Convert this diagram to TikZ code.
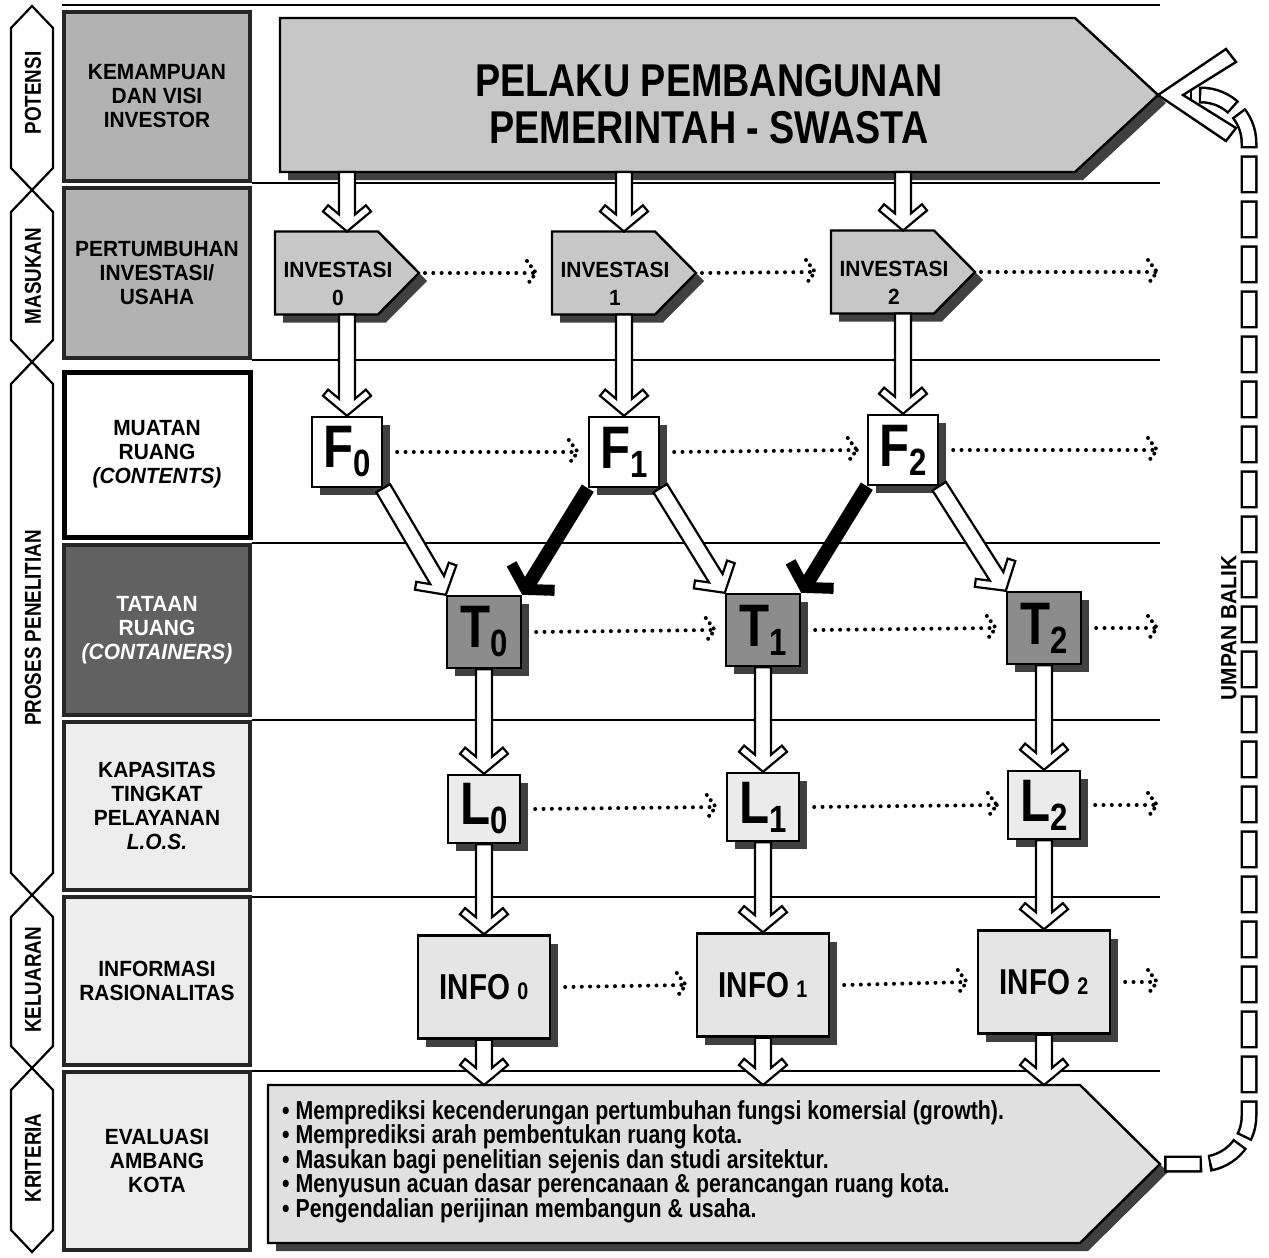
\documentclass[tikz,border=0pt]{standalone}
\usepackage{fontspec}
\setmainfont{Liberation Sans}[FakeStretch=0.82]
\newfontfamily\labfont{Liberation Sans}[FakeStretch=0.95]
\usetikzlibrary{calc,shadows}
\newcommand\fsz[2]{\fontsize{#1}{#2}\selectfont}
\newcommand\bigsub[2]{{\fsz{60}{60}#1}\kern0.5pt\raisebox{-9pt}{\fsz{38}{38}#2}}
\newcommand\infotxt[1]{{\fsz{36}{36}INFO}\kern7pt{\fsz{24}{24}#1}}
\tikzset{
  rowline/.style={line width=2.6pt},
  hexline/.style={line width=2.2pt, fill=white},
  vlab/.style={rotate=90, font=\bfseries\fsz{23}{23}},
  labbox/.style={draw=black!85, line width=3.5pt, minimum width=186pt, align=center, font=\labfont\bfseries\fsz{22}{24}, inner sep=0pt},
  anchorbox/.style={inner sep=0pt, outer sep=0pt},
  shad/.style={general shadow={fill=black!75, shadow xshift=8pt, shadow yshift=-8pt}},
  pentfill/.style={draw, line width=2.4pt, fill=#1, shad},
  sqbox/.style={draw, line width=2.4pt, fill=#1, shad, inner sep=0pt, font=\bfseries},
  invtext/.style={font=\labfont\bfseries\fsz{22}{28}, align=center},
  harrow/.style={draw, line width=2.2pt, fill=white, line join=miter},
  dotline/.style={line width=4pt, line cap=round, dash pattern=on 0pt off 8.3pt},
  fbout/.style={line width=17pt, draw=black, dash pattern=on 38pt off 7pt, rounded corners=48pt},
  fbin/.style={line width=12pt, draw=white, dash pattern=on 33pt off 12pt, dash phase=42.5pt, rounded corners=48pt},
  headst/.style={draw, line width=2.4pt, fill=white, line join=miter},
}
\newcommand\hexshape[2]{\draw[hexline] (32,#1) -- (53,{#1+22}) -- (53,{#2-22}) -- (32,#2) -- (11,{#2-22}) -- (11,{#1+22}) -- cycle;}
\newcommand\hollowarr[2]{%
  \coordinate (qa) at (#1); \coordinate (qb) at (#2);
  \coordinate (q1) at ($(qb)!17.1pt!(qa)$);
  \coordinate (q2) at ($(qb)!26.2pt!(qa)$);
  \coordinate (q3) at ($(qb)!20pt!(qa)$);
  \draw[harrow] ($(qa)!8pt!90:(qb)$) -- ($(q1)!8pt!90:(qb)$) -- ($(q2)!18.9pt!90:(qb)$) -- ($(q3)!24pt!90:(qb)$) -- (qb) -- ($(q3)!24pt!-90:(qb)$) -- ($(q2)!18.9pt!-90:(qb)$) -- ($(q1)!8pt!-90:(qb)$) -- ($(qa)!8pt!-90:(qb)$) -- cycle;}
\newcommand\blackarr[2]{%
  \coordinate (qa) at (#1); \coordinate (qb) at (#2);
  \coordinate (q1) at ($(qb)!16.6pt!(qa)$);
  \coordinate (q2) at ($(qb)!25.6pt!(qa)$);
  \coordinate (q3) at ($(qb)!16pt!(qa)$);
  \fill ($(qa)!7pt!90:(qb)$) -- ($(q1)!7pt!90:(qb)$) -- ($(q2)!22.5pt!90:(qb)$) -- ($(q3)!28pt!90:(qb)$) -- (qb) -- ($(q3)!28pt!-90:(qb)$) -- ($(q2)!22.5pt!-90:(qb)$) -- ($(q1)!7pt!-90:(qb)$) -- ($(qa)!7pt!-90:(qb)$) -- cycle;}
\newcommand\dotarr[2]{%
  \coordinate (da) at (#1); \coordinate (db) at (#2);
  \draw[dotline] (da) -- (db);
  \draw[dotline, dash pattern=on 0pt off 6.5pt] ($(db)+(-9,-12)$) -- (db) -- ($(db)+(-9,12)$);}
\begin{document}
\begin{tikzpicture}[x=1pt,y=-1pt]
\useasboundingbox (0,0) rectangle (1269,1258);
\fill[white] (0,0) rectangle (1269,1258);
% left hexagonal labels
\hexshape{6}{190}
\hexshape{190}{362}
\hexshape{362}{895}
\hexshape{895}{1068}
\hexshape{1068}{1252}
\node[vlab] (vP) at (33,93) {POTENSI};
\node[vlab] (vM) at (33,276) {MASUKAN};
\node[vlab] (vPP) at (33,628) {PROSES PENELITIAN};
\node[vlab] (vK) at (33,980) {KELUARAN};
\node[vlab] (vKr) at (33,1158) {KRITERIA};
% label boxes
\node[labbox, fill=black!30, minimum height=169pt] (r1) at (157,96.5) {KEMAMPUAN\\DAN VISI\\INVESTOR};
\node[labbox, fill=black!30, minimum height=170pt] (r2) at (157,273) {PERTUMBUHAN\\INVESTASI/\\USAHA};
\node[labbox, fill=white, line width=5pt, draw=black, minimum height=165pt] (r3) at (157,454.5) {MUATAN\\RUANG\\\textit{(CONTENTS)}};
\node[labbox, fill=black!62, text=white, minimum height=170pt] (r4) at (157,630) {TATAAN\\RUANG\\\textit{(CONTAINERS)}};
\node[labbox, fill=black!7, minimum height=168pt] (r5) at (157,806) {KAPASITAS\\TINGKAT\\PELAYANAN\\\textit{L.O.S.}};
\node[labbox, fill=black!7, minimum height=168pt] (r6) at (157,981) {INFORMASI\\RASIONALITAS};
\node[labbox, fill=black!7, minimum height=178pt] (r7) at (157,1161) {EVALUASI\\AMBANG\\KOTA};
% row lines
\draw[rowline] (62,5) -- (1160,5);
\foreach \yy in {183,360,543,720,897,1071} \draw[rowline] (252,\yy) -- (1160,\yy);
% banner
\node[anchorbox, minimum width=878pt, minimum height=154pt] (B) at (719,95) {};
\draw[pentfill=black!22] (B.north west) -- ($(B.north east)+(-83,0)$) -- (B.east) -- ($(B.south east)+(-83,0)$) -- (B.south west) -- cycle;
\node[font=\bfseries\fsz{46}{47}, align=center] (BT) at (709,104) {PELAKU PEMBANGUNAN\\PEMERINTAH - SWASTA};
% investasi
\foreach \nm/\xx/\yy/\dd in {I0/347/273/0, I1/624/273/1, I2/903/272/2}{
  \node[anchorbox, minimum width=144pt, minimum height=83pt] (\nm) at (\xx,\yy) {};
  \draw[pentfill=black!22] (\nm.north west) -- ($(\nm.north east)+(-41,0)$) -- (\nm.east) -- ($(\nm.south east)+(-41,0)$) -- (\nm.south west) -- cycle;
  \node[invtext] (\nm t) at ($(\nm)+(-9,11)$) {INVESTASI\\\dd};
}
% F, T, L, INFO boxes
\node[sqbox=white, minimum width=70pt, minimum height=70pt] (F0) at (347,452) {\bigsub{F}{0}};
\node[sqbox=white, minimum width=70pt, minimum height=70pt] (F1) at (624,452) {\bigsub{F}{1}};
\node[sqbox=white, minimum width=70pt, minimum height=70pt] (F2) at (903,450) {\bigsub{F}{2}};
\node[sqbox=black!45, minimum width=74pt, minimum height=72pt] (T0) at (484,632) {\bigsub{T}{0}};
\node[sqbox=black!45, minimum width=74pt, minimum height=72pt] (T1) at (763,630) {\bigsub{T}{1}};
\node[sqbox=black!45, minimum width=74pt, minimum height=72pt] (T2) at (1044,628) {\bigsub{T}{2}};
\node[sqbox=black!8, minimum width=72pt, minimum height=68pt] (L0) at (484,809) {\bigsub{L}{0}};
\node[sqbox=black!8, minimum width=72pt, minimum height=68pt] (L1) at (763,807) {\bigsub{L}{1}};
\node[sqbox=black!8, minimum width=72pt, minimum height=68pt] (L2) at (1044,805) {\bigsub{L}{2}};
\node[sqbox=black!10, minimum width=132pt, minimum height=103pt] (N0) at (484,987) {\infotxt{0}};
\node[sqbox=black!10, minimum width=132pt, minimum height=103pt] (N1) at (763,985) {\infotxt{1}};
\node[sqbox=black!10, minimum width=132pt, minimum height=103pt] (N2) at (1044,982) {\infotxt{2}};
% bottom box
\node[anchorbox, minimum width=892pt, minimum height=158pt] (BB) at (714,1164) {};
\draw[pentfill=black!12] (BB.north west) -- ($(BB.north east)+(-80,0)$) -- (BB.east) -- ($(BB.south east)+(-80,0)$) -- (BB.south west) -- cycle;
\node[font=\bfseries\fsz{26}{24.5}, align=left, anchor=north west, inner sep=0pt] (BBt) at (282,1100) {%
\textbullet\ Memprediksi kecenderungan pertumbuhan fungsi komersial (growth).\\
\textbullet\ Memprediksi arah pembentukan ruang kota.\\
\textbullet\ Masukan bagi penelitian sejenis dan studi arsitektur.\\
\textbullet\ Menyusun acuan dasar perencanaan \& perancangan ruang kota.\\
\textbullet\ Pengendalian perijinan membangun \& usaha.};
% vertical hollow arrows
\hollowarr{I0.north |- B.south}{I0.north}
\hollowarr{I1.north |- B.south}{I1.north}
\hollowarr{I2.north |- B.south}{I2.north}
\hollowarr{I0.south}{F0.north}
\hollowarr{I1.south}{F1.north}
\hollowarr{I2.south}{F2.north}
\hollowarr{T0.south}{L0.north}
\hollowarr{T1.south}{L1.north}
\hollowarr{T2.south}{L2.north}
\hollowarr{L0.south}{N0.north}
\hollowarr{L1.south}{N1.north}
\hollowarr{L2.south}{N2.north}
\hollowarr{N0.south}{N0.south |- BB.north}
\hollowarr{N1.south}{N1.south |- BB.north}
\hollowarr{N2.south}{N2.south |- BB.north}
% diagonal arrows
\hollowarr{F0.south east}{T0.north west}
\hollowarr{F1.south east}{T1.north west}
\hollowarr{F2.south east}{T2.north west}
\blackarr{F1.south west}{T0.north east}
\blackarr{F2.south west}{T1.north east}
% dotted arrows
\coordinate (eI) at (1157,272);
\coordinate (eF) at (1157,450);
\coordinate (eT) at (1157,628);
\coordinate (eL) at (1157,805);
\coordinate (eN) at (1157,982);
\dotarr{$(I0.east)+(6,0)$}{$(I1.west)+(-16,0)$}
\dotarr{$(I1.east)+(6,0)$}{$(I2.west)+(-16,0)$}
\dotarr{$(I2.east)+(6,0)$}{eI}
\dotarr{$(F0.east)+(14,0)$}{$(F1.west)+(-10,0)$}
\dotarr{$(F1.east)+(14,0)$}{$(F2.west)+(-10,0)$}
\dotarr{$(F2.east)+(14,0)$}{eF}
\dotarr{$(T0.east)+(14,0)$}{$(T1.west)+(-10,0)$}
\dotarr{$(T1.east)+(14,0)$}{$(T2.west)+(-10,0)$}
\dotarr{$(T2.east)+(14,0)$}{eT}
\dotarr{$(L0.east)+(14,0)$}{$(L1.west)+(-10,0)$}
\dotarr{$(L1.east)+(14,0)$}{$(L2.west)+(-10,0)$}
\dotarr{$(L2.east)+(14,0)$}{eL}
\dotarr{$(N0.east)+(14,0)$}{$(N1.west)+(-10,0)$}
\dotarr{$(N1.east)+(14,0)$}{$(N2.west)+(-10,0)$}
\dotarr{$(N2.east)+(14,0)$}{eN}
% feedback (umpan balik)
\coordinate (fb0) at ($(BB.east)+(4,0)$);
\coordinate (fb1) at (1249,1164);
\coordinate (fb2) at (1249,95);
\coordinate (fb3) at ($(B.east)+(32,0)$);
\draw[fbout] (fb0) -- (fb1) -- (fb2) -- (fb3);
\draw[fbin] (fb0) -- (fb1) -- (fb2) -- (fb3);
\draw[headst] (B.east) -- ++(68,-46) -- ++(10,13) -- ($(B.east)+(25,0)$) -- ++(53,33) -- ++(-10,13) -- cycle;
\node[rotate=90, font=\labfont\bfseries\fsz{22}{22}] (UB) at (1229,628) {UMPAN BALIK};
\end{tikzpicture}
\end{document}
